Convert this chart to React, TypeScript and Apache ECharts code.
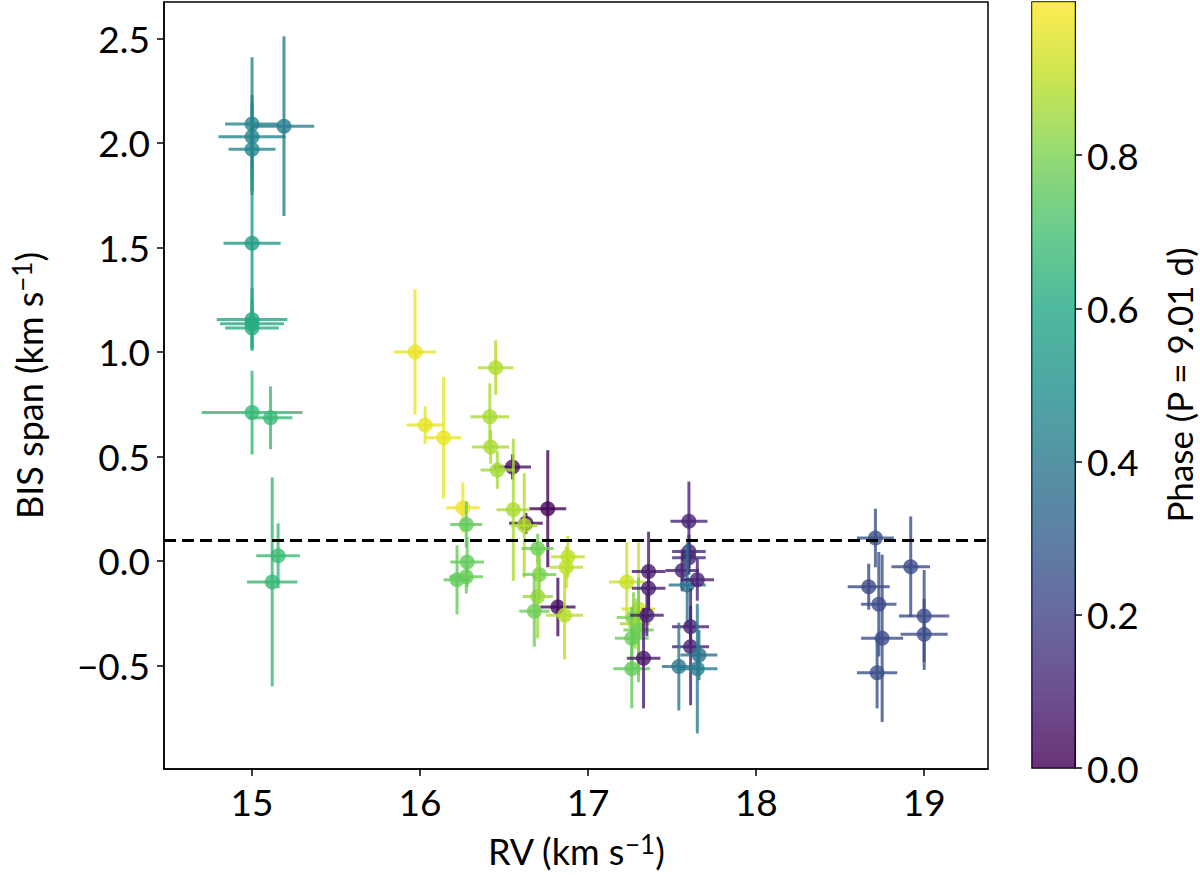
import { useEffect, useRef } from 'react';
import * as echarts from 'echarts';

// RV (km/s), RV error, BIS span (km/s), BIS error, orbital phase
const rv = [
  15.0, 15.19, 15.0, 15.0, 15.0, 15.0, 15.0, 15.0, 15.0, 15.11, 15.155, 15.12,
  15.97, 16.03, 16.14, 16.255,
  16.55, 16.63, 16.76, 16.82,
  16.45, 16.415, 16.42, 16.46, 16.555, 16.62,
  16.275, 16.28, 16.275, 16.22,
  16.7, 16.71, 16.7, 16.68,
  16.88, 16.87, 16.86,
  17.23, 17.3, 17.27, 17.28, 17.3, 17.26, 17.26,
  17.36, 17.36, 17.35, 17.33,
  17.6, 17.6, 17.6, 17.56, 17.59, 17.65, 17.61, 17.61, 17.66, 17.54, 17.65,
  18.71, 18.92, 18.67, 18.73, 18.75, 18.72, 19.0, 19.0,
];
const rvErr = [
  0.16, 0.18, 0.2, 0.14, 0.17, 0.21, 0.19, 0.16, 0.3, 0.13, 0.13, 0.15,
  0.125, 0.11, 0.105, 0.1,
  0.11, 0.1, 0.11, 0.105,
  0.105, 0.115, 0.11, 0.1, 0.1, 0.08,
  0.095, 0.1, 0.1, 0.08,
  0.095, 0.1, 0.09, 0.09,
  0.1, 0.1, 0.11,
  0.105, 0.1, 0.1, 0.09, 0.09, 0.1, 0.11,
  0.1, 0.1, 0.1, 0.1,
  0.11, 0.1, 0.1, 0.1, 0.11, 0.1, 0.11, 0.11, 0.11, 0.1, 0.12,
  0.11, 0.115, 0.125, 0.105, 0.125, 0.12, 0.15, 0.14,
];
const bis = [
  2.09, 2.08, 2.03, 1.97, 1.52, 1.155, 1.135, 1.115, 0.71, 0.685, 0.025, -0.1,
  1.0, 0.65, 0.59, 0.255,
  0.45, 0.18, 0.25, -0.22,
  0.925, 0.69, 0.545, 0.435, 0.245, 0.17,
  0.175, -0.005, -0.075, -0.09,
  0.06, -0.065, -0.17, -0.24,
  0.02, -0.03, -0.26,
  -0.1, -0.23, -0.27, -0.3, -0.33, -0.37, -0.515,
  -0.05, -0.13, -0.26, -0.465,
  0.19, 0.045, 0.015, -0.045, -0.115, -0.09, -0.315, -0.41, -0.45, -0.505, -0.515,
  0.11, -0.027, -0.123, -0.207, -0.37, -0.535, -0.263, -0.351,
];
const bisErr = [
  0.32, 0.43, 0.2, 0.22, 0.35, 0.15, 0.12, 0.1, 0.2, 0.15, 0.155, 0.5,
  0.3, 0.09, 0.29, 0.12,
  0.06, 0.05, 0.28, 0.14,
  0.13, 0.16, 0.08, 0.09, 0.34, 0.25,
  0.11, 0.12, 0.08, 0.165,
  0.07, 0.12, 0.2, 0.17,
  0.1, 0.1, 0.21,
  0.19, 0.32, 0.12, 0.12, 0.25, 0.15, 0.19,
  0.19, 0.1, 0.1, 0.24,
  0.19, 0.08, 0.08, 0.1, 0.2, 0.1, 0.1, 0.28, 0.12, 0.21, 0.31,
  0.14, 0.24, 0.11, 0.25, 0.4, 0.17, 0.22, 0.17,
];
const phase = [
  0.45, 0.42, 0.44, 0.45, 0.55, 0.6, 0.61, 0.62, 0.66, 0.67, 0.68, 0.67,
  0.97, 0.96, 0.97, 0.98,
  0.04, 0.03, 0.01, 0.03,
  0.88, 0.87, 0.87, 0.86, 0.87, 0.88,
  0.76, 0.76, 0.77, 0.76,
  0.78, 0.79, 0.85, 0.78,
  0.9, 0.9, 0.89,
  0.92, 0.93, 0.8, 0.86, 0.78, 0.77, 0.76,
  0.08, 0.08, 0.09, 0.07,
  0.1, 0.12, 0.12, 0.1, 0.38, 0.1, 0.1, 0.1, 0.37, 0.4, 0.42,
  0.25, 0.23, 0.22, 0.24, 0.23, 0.25, 0.24, 0.24,
];

const xTicks = [15, 16, 17, 18, 19];
const yTicks = [-0.5, 0, 0.5, 1, 1.5, 2, 2.5];
const phaseTicks = [0, 0.2, 0.4, 0.6, 0.8];
const bisThreshold = 0.1;

const viridis = [
  '#440154', '#482475', '#414487', '#355f8d', '#2a788e', '#21918c',
  '#22a884', '#44bf70', '#7ad151', '#bddf26', '#fde725',
];

const FONT = 'Lato';
const minus = (s: string) => s.replace('-', '\u2212');

export default function App() {
  const chartRef = useRef<HTMLDivElement>(null);

  useEffect(() => {
    if (!chartRef.current) return;
    const chart = echarts.init(chartRef.current, null, { renderer: 'svg' });

    const points = rv.map((x, i) => [x, bis[i], rvErr[i], bisErr[i], phase[i]]);
    const gradient = new echarts.graphic.LinearGradient(
      0, 0, 0, 1,
      viridis.slice().reverse().map((c, i) => ({ offset: i / (viridis.length - 1), color: c })),
    );

    const axisCommon = {
      axisLine: { show: true, onZero: false, lineStyle: { color: '#000', width: 1.5 } },
      splitLine: { show: false },
    };
    const supRich = {
      sup: { fontSize: 26, fontFamily: FONT, color: '#000', verticalAlign: 'top' as const, padding: [0, 0, 14, 0] },
    };
    const tickStyle = { show: true, length: 7, lineStyle: { color: '#000', width: 1.5 } };
    const labelStyle = { fontSize: 37, fontFamily: FONT, color: '#000' };

    const option: any = {
      animation: false,
      grid: [
        { left: 164, right: 212, top: 2, bottom: 109, show: true, borderColor: '#000', borderWidth: 1.5 },
        { left: 1032, right: 125, top: 2, bottom: 110, show: true, borderColor: '#000', borderWidth: 1.5 },
      ],
      xAxis: [
        {
          ...axisCommon,
          type: 'value',
          gridIndex: 0,
          min: 14.476,
          max: 19.38,
          axisTick: { ...tickStyle, customValues: xTicks },
          axisLabel: {
            ...labelStyle,
            customValues: xTicks,
            margin: 14,
            formatter: (v: number) => String(v),
          },
          name: 'RV (km s{sup|\u22121})',
          nameLocation: 'middle',
          nameGap: 62,
          nameTextStyle: { fontSize: 36, fontFamily: FONT, color: '#000', rich: supRich },
        },
        {
          type: 'category',
          gridIndex: 1,
          data: [''],
          show: false,
        },
      ],
      yAxis: [
        {
          ...axisCommon,
          type: 'value',
          gridIndex: 0,
          min: -0.995,
          max: 2.674,
          axisTick: { ...tickStyle, customValues: yTicks },
          axisLabel: {
            ...labelStyle,
            customValues: yTicks,
            margin: 14,
            formatter: (v: number) => minus(v.toFixed(1)),
          },
          name: 'BIS span (km s{sup|\u22121})',
          nameLocation: 'middle',
          nameRotate: 90,
          nameGap: 115,
          nameTextStyle: { fontSize: 36, fontFamily: FONT, color: '#000', rich: supRich },
        },
        {
          ...axisCommon,
          type: 'value',
          gridIndex: 1,
          position: 'right',
          min: 0,
          max: 1,
          axisTick: { ...tickStyle, customValues: phaseTicks },
          axisLabel: {
            ...labelStyle,
            customValues: phaseTicks,
            margin: 12,
            formatter: (v: number) => v.toFixed(1),
          },
          name: 'Phase (P = 9.01 d)',
          nameLocation: 'middle',
          nameRotate: 90,
          nameGap: 86,
          nameTextStyle: { fontSize: 35, fontFamily: FONT, color: '#000' },
        },
      ],
      visualMap: {
        show: false,
        type: 'continuous',
        min: 0,
        max: 1,
        dimension: 4,
        seriesIndex: 0,
        inRange: { color: viridis },
      },
      series: [
        {
          type: 'custom',
          xAxisIndex: 0,
          yAxisIndex: 0,
          data: points,
          silent: true,
          renderItem: (_params: any, api: any) => {
            const x = api.value(0);
            const y = api.value(1);
            const ex = api.value(2);
            const ey = api.value(3);
            const c = api.coord([x, y]);
            const l = api.coord([x - ex, y]);
            const r = api.coord([x + ex, y]);
            const t = api.coord([x, y + ey]);
            const b = api.coord([x, y - ey]);
            const color = api.visual('color');
            const ls = { stroke: color, lineWidth: 3, opacity: 0.8 };
            return {
              type: 'group',
              children: [
                { type: 'line', shape: { x1: l[0], y1: l[1], x2: r[0], y2: r[1] }, style: ls },
                { type: 'line', shape: { x1: t[0], y1: t[1], x2: b[0], y2: b[1] }, style: ls },
                { type: 'circle', shape: { cx: c[0], cy: c[1], r: 7.5 }, style: { fill: color, opacity: 0.8 } },
              ],
            };
          },
        },
        {
          type: 'line',
          xAxisIndex: 0,
          yAxisIndex: 0,
          data: [],
          markLine: {
            silent: true,
            symbol: 'none',
            label: { show: false },
            lineStyle: { color: '#000', type: [12, 6], width: 3 },
            data: [{ yAxis: bisThreshold }],
          },
        },
        {
          type: 'bar',
          xAxisIndex: 1,
          yAxisIndex: 1,
          data: [1],
          barWidth: '100%',
          silent: true,
          itemStyle: { color: gradient, opacity: 0.8 },
        },
      ],
    };

    chart.setOption(option);
    return () => chart.dispose();
  }, []);

  return (
    <div
      ref={chartRef}
      style={{ position: 'absolute', left: 0, top: 0, width: 1200, height: 878, background: '#fff' }}
    />
  );
}
